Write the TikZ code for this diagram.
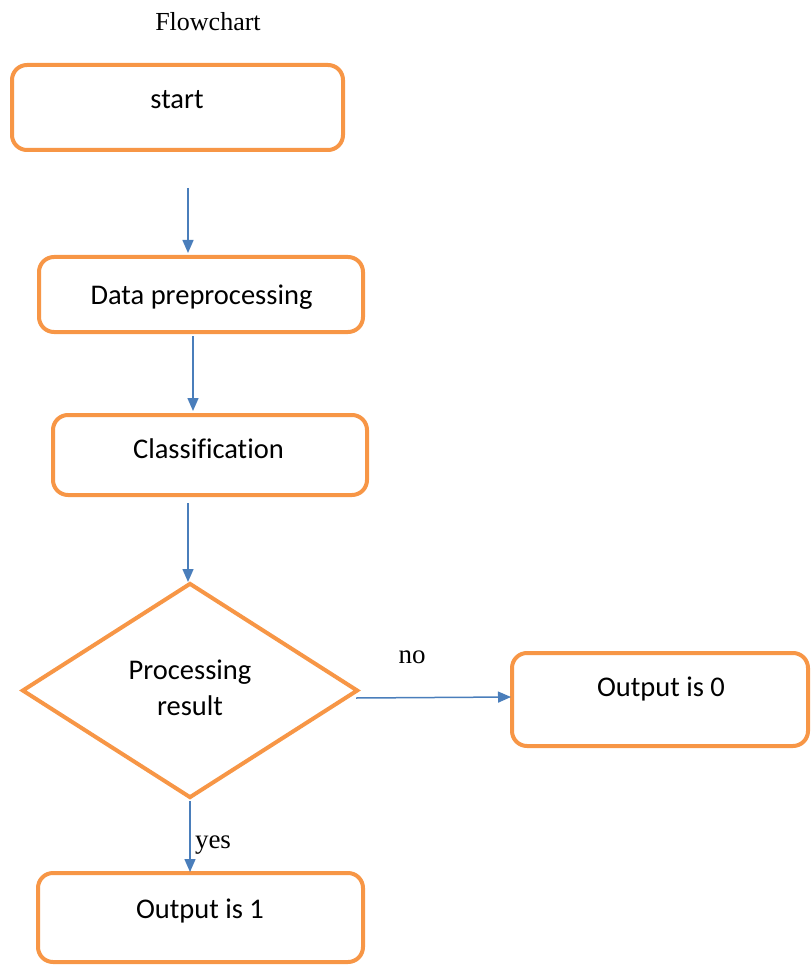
\documentclass[tikz,border=0pt]{standalone}
\usepackage{fontspec}
\setmainfont{Liberation Serif}
\newfontfamily\boxfont[Ligatures=NoCommon]{Carlito}
\usetikzlibrary{shapes.geometric,arrows.meta}
\definecolor{orng}{HTML}{F79646}
\definecolor{arblue}{HTML}{4A7EBB}
\tikzset{
  fbox/.style={draw=orng, line width=4pt, rounded corners=15pt, fill=white, inner sep=0pt},
  btext/.style={font=\boxfont\fontsize{28.5}{36}\selectfont, text=black},
  stext/.style={font=\fontsize{26}{30}\selectfont, text=black},
  flow/.style={draw=arblue, line width=1.5pt, -{Triangle[length=13pt,width=11pt]}},
}
\begin{document}
\begin{tikzpicture}[x=1pt,y=-1pt]
\useasboundingbox (0,0) rectangle (811,965);
\node[stext] (title) at (208,22) {Flowchart};
\node[fbox, minimum width=331pt, minimum height=85pt] (start) at (177.5,107.5) {};
\node[btext] (tstart) at (177,100) {start};
\node[fbox, minimum width=324pt, minimum height=75pt] (prep) at (201,294.5) {};
\node[btext] (tprep) at (201.5,297) {Data preprocessing};
\node[fbox, minimum width=314pt, minimum height=80pt] (cls) at (210,455) {};
\node[btext] (tcls) at (208.5,449) {Classification};
\node[draw=orng, line width=4pt, diamond, inner sep=0pt, minimum width=336pt, minimum height=215pt, aspect=1.563, fill=white] (dec) at (190,690.5) {};
\node[btext, align=center] (tdec) at (190,688) {Processing\\result};
\node[fbox, minimum width=296pt, minimum height=93pt] (out0) at (660,699.5) {};
\node[btext] (tout0) at (661,689) {Output is 0};
\node[fbox, minimum width=325pt, minimum height=89pt] (out1) at (200.5,917.5) {};
\node[btext] (tout1) at (200,911) {Output is 1};
% arrows
\coordinate (a1s) at (188,188);
\coordinate (a1e) at (188,253);
\draw[flow] (a1s) -- (a1e);
\coordinate (a2s) at (193,336);
\coordinate (a2e) at (193,411);
\draw[flow] (a2s) -- (a2e);
\coordinate (a3s) at (188,503);
\coordinate (a3e) at (188,582);
\draw[flow] (a3s) -- (a3e);
\coordinate (a4s) at (356,698);
\coordinate (a4e) at (511,697);
\draw[flow] (a4s) -- (a4e);
\coordinate (a5s) at (190,801);
\coordinate (a5e) at (190,872);
\draw[flow] (a5s) -- (a5e);
\node[stext, font=\fontsize{27}{30}\selectfont] (lno) at (412,657) {no};
\node[stext, font=\fontsize{27}{30}\selectfont] (lyes) at (213,845) {yes};
\end{tikzpicture}
\end{document}
